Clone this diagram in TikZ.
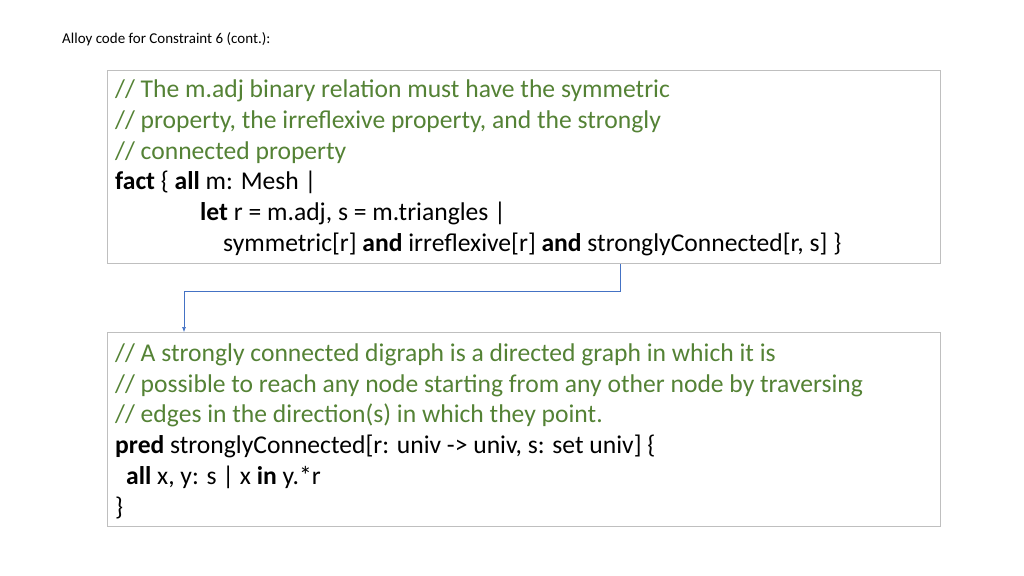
\documentclass[tikz,border=0pt]{standalone}
\usepackage{fontspec}
\setmainfont{Carlito}
\usetikzlibrary{arrows.meta}
\definecolor{cmt}{HTML}{548235}
\definecolor{link}{HTML}{4472C4}
\definecolor{frame}{HTML}{BFBFBF}
\begin{document}
\begin{tikzpicture}[x=1bp,y=-1bp]
	\tikzstyle{codebox}=[draw=frame,line width=0.8pt,rectangle,inner sep=0pt]
	\tikzstyle{codeline}=[anchor=base west,inner sep=0pt,font=\fontsize{25.6bp}{30bp}\selectfont]
	\useasboundingbox (0,0) rectangle (1024,576);
	\node[anchor=base west,inner sep=0pt,font=\fontsize{15bp}{18bp}\selectfont] (title) at (62,44) {Alloy code for Constraint 6 (cont.):};
	% upper box
	\node[codebox,minimum width=833bp,minimum height=193bp,anchor=north west] (fact) at (107,70) {};
	\node[codeline,text=cmt] (f1) at (115,98) {// The m.adj binary relation must have the symmetric};
	\node[codeline,text=cmt] (f2) at (115,129) {// property, the irreflexive property, and the strongly};
	\node[codeline,text=cmt] (f3) at (115,160) {// connected property};
	\node[codeline] (f4) at (115,190) {\textbf{fact} \{ \textbf{all} m: Mesh |};
	\node[codeline] (f5) at (200,221) {\textbf{let} r = m.adj, s = m.triangles |};
	\node[codeline] (f6) at (223,252) {symmetric[r] \textbf{and} irreflexive[r] \textbf{and} stronglyConnected[r, s] \}};
	% lower box
	\node[codebox,minimum width=833bp,minimum height=194bp,anchor=north west] (pred) at (107,332) {};
	\node[codeline,text=cmt] (p1) at (115,361) {// A strongly connected digraph is a directed graph in which it is};
	\node[codeline,text=cmt] (p2) at (115,392) {// possible to reach any node starting from any other node by traversing};
	\node[codeline,text=cmt] (p3) at (115,422) {// edges in the direction(s) in which they point.};
	\node[codeline] (p4) at (115,453) {\textbf{pred} stronglyConnected[r: univ -> univ, s: set univ] \{};
	\node[codeline] (p5) at (126,484) {\textbf{all} x, y: s | x \textbf{in} y.*r};
	\node[codeline] (p6) at (115,515) {\}};
	% connector
	\coordinate (bend) at (184,291);
	\draw[link,line width=0.6pt,-{Latex[length=5pt,width=4pt]}] (fact.south -| 620,0) |- (bend) -- (pred.north -| bend);
\end{tikzpicture}
\end{document}
